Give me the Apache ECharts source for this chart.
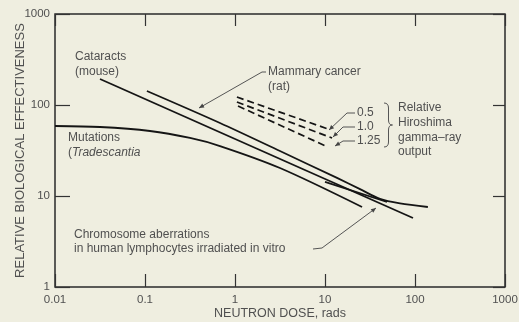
<!DOCTYPE html>
<html><head><meta charset="utf-8">
<script src="https://cdn.jsdelivr.net/npm/echarts@6/dist/echarts.min.js"></script>
<style>html,body{margin:0;padding:0;background:#efeee0;}#c{width:519px;height:322px;}</style>
</head><body><div id="c"></div>
<script>
// ---- data ----
const xTickLabels = ['0.01', '0.1', '1', '10', '100', '1000'];
const yTickLabels = ['1', '10', '100', '1000'];

const cataractsDose = [0.0316, 95];
const cataractsRBE = [193, 5.73];

const mammaryDose = [0.105, 0.681, 3.16, 13.6, 24.5, 40.8, 68.1, 139];
const mammaryRBE = [142.5, 63.4, 31.2, 15.8, 11.9, 9.3, 8.3, 7.57];

const mutationsDose = [0.01, 0.0316, 0.1136, 0.316, 0.681, 3.16, 25.8];
const mutationsRBE = [58.8, 57.3, 51.8, 43.4, 35.4, 20.3, 7.57];

const chromosomeDose = [10, 48.9];
const chromosomeRBE = [14.3, 8.59];

const gamma05Dose = [1.05, 10.8];
const gamma05RBE = [122.4, 54.5];
const gamma10Dose = [1.05, 12.0];
const gamma10RBE = [107.9, 43.4];
const gamma125Dose = [1.08, 10.8];
const gamma125RBE = [97.5, 34.5];

// ---- helpers ----
const pairs = (xs, ys) => xs.map((x, i) => [x, ys[i]]);
const FONT = '"Liberation Sans", Arial, sans-serif';
const TXT = '#505050';
const LINE = '#151515';

function solid(name, xs, ys, smooth) {
  return { name, type: 'line', data: pairs(xs, ys), showSymbol: false, smooth: smooth || false,
    lineStyle: { color: LINE, width: 1.8 }, z: 3, silent: true };
}
function dashed(name, xs, ys) {
  return { name, type: 'line', data: pairs(xs, ys), showSymbol: false,
    lineStyle: { color: LINE, width: 1.7, type: [7, 4] }, z: 3, silent: true };
}
function txt(t, x, y, extra) {
  return Object.assign({ type: 'text', silent: true, style: Object.assign({
    text: t, x, y, fill: TXT, font: '12px ' + FONT,
    textAlign: 'left', textVerticalAlign: 'middle', align: 'left', verticalAlign: 'middle'
  }, extra || {}) });
}
function leader(pts) {
  const els = [{ type: 'polyline', silent: true, shape: { points: pts },
    style: { stroke: '#555', lineWidth: 1, fill: null } }];
  const a = pts[pts.length - 1], b = pts[pts.length - 2];
  const ang = Math.atan2(a[1] - b[1], a[0] - b[0]);
  const L = 5, W = 2.2;
  const bx = a[0] - L * Math.cos(ang), by = a[1] - L * Math.sin(ang);
  els.push({ type: 'polygon', silent: true, shape: { points: [
    a, [bx + W * Math.sin(ang), by - W * Math.cos(ang)], [bx - W * Math.sin(ang), by + W * Math.cos(ang)]] },
    style: { fill: '#444' } });
  return els;
}
function q(x1, y1, cx, cy, x2, y2) {
  return { type: 'bezierCurve', silent: true, shape: { x1, y1, x2, y2, cpx1: cx, cpy1: cy },
    style: { stroke: '#555', lineWidth: 1, fill: null } };
}
function seg(x1, y1, x2, y2) {
  return { type: 'line', silent: true, shape: { x1, y1, x2, y2 }, style: { stroke: '#555', lineWidth: 1 } };
}

const chart = echarts.init(document.getElementById('c'), null, { renderer: 'canvas' });

const tickStyle = { show: true, inside: true, length: 13, lineStyle: { color: '#333', width: 1.2 } };
const xFmt = v => xTickLabels[Math.round(Math.log10(v)) + 2];
const yFmt = v => yTickLabels[Math.round(Math.log10(v))];

const graphics = [].concat(
  [txt('Cataracts', 75, 57), txt('(mouse)', 75, 72),
   txt('Mammary cancer', 268, 72), txt('(rat)', 268, 87),
   txt('Mutations', 68, 138), txt('(', 68, 153),
   txt('Tradescantia', 72, 153, { font: 'italic 12px ' + FONT }),
   txt('Chromosome aberrations', 74, 235),
   txt('in human lymphocytes irradiated in vitro', 74, 249),
   txt('0.5', 357, 113), txt('1.0', 357, 127), txt('1.25', 357, 141),
   txt('Relative', 398, 108), txt('Hiroshima', 398, 123),
   txt('gamma\u2013ray', 398, 138), txt('output', 398, 152)],
  leader([[266, 72], [262, 72], [199, 108]]),
  leader([[313, 249], [322, 248], [326, 245], [376, 208]]),
  leader([[355, 113], [347, 113], [329, 130]]),
  leader([[355, 127], [343, 127], [333, 137]]),
  leader([[355, 141], [343, 141], [335, 146]]),
  [q(384, 103, 388.5, 103, 388.5, 108), seg(388.5, 108, 388.5, 120),
   q(388.5, 120, 388.5, 125, 392.5, 125), q(392.5, 125, 388.5, 125, 388.5, 130),
   seg(388.5, 130, 388.5, 142), q(388.5, 142, 388.5, 147, 384, 147)]
);

chart.setOption({
  backgroundColor: '#efeee0',
  animation: false,
  grid: { left: 55, right: 14, top: 14, bottom: 35, containLabel: false, outerBoundsMode: 'none',
    show: true, borderColor: '#2a2a2a', borderWidth: 1.5, backgroundColor: 'transparent' },
  xAxis: [
    { type: 'log', logBase: 10, min: 0.01, max: 1000, position: 'bottom',
      name: 'NEUTRON DOSE, rads', nameLocation: 'middle', nameGap: 20, nameMoveOverlap: false,
      nameTextStyle: { color: TXT, fontFamily: FONT, fontSize: 12.5 },
      axisLine: { show: false }, axisTick: tickStyle, splitLine: { show: false }, minorTick: { show: false },
      axisLabel: { color: TXT, fontFamily: FONT, fontSize: 11.5, margin: 7, formatter: xFmt } },
    { type: 'log', logBase: 10, min: 0.01, max: 1000, position: 'top',
      axisLine: { show: false }, axisTick: Object.assign({}, tickStyle, { length: 12 }), splitLine: { show: false },
      axisLabel: { show: false } }
  ],
  yAxis: [
    { type: 'log', logBase: 10, min: 1, max: 1000, position: 'left',
      name: 'RELATIVE BIOLOGICAL EFFECTIVENESS', nameLocation: 'middle', nameGap: 28, nameRotate: 90,
      nameMoveOverlap: false,
      nameTextStyle: { color: TXT, fontFamily: FONT, fontSize: 13 },
      axisLine: { show: false }, axisTick: Object.assign({}, tickStyle, { length: 15 }), splitLine: { show: false },
      axisLabel: { color: TXT, fontFamily: FONT, fontSize: 11.5, margin: 5, formatter: yFmt } },
    { type: 'log', logBase: 10, min: 1, max: 1000, position: 'right',
      axisLine: { show: false }, axisTick: Object.assign({}, tickStyle, { length: 12 }), splitLine: { show: false },
      axisLabel: { show: false } }
  ],
  series: [
    solid('Cataracts (mouse)', cataractsDose, cataractsRBE),
    solid('Mammary cancer (rat)', mammaryDose, mammaryRBE, 0.3),
    solid('Mutations (Tradescantia)', mutationsDose, mutationsRBE, 0.3),
    solid('Chromosome aberrations', chromosomeDose, chromosomeRBE),
    dashed('0.5', gamma05Dose, gamma05RBE),
    dashed('1.0', gamma10Dose, gamma10RBE),
    dashed('1.25', gamma125Dose, gamma125RBE)
  ],
  graphic: { elements: graphics }
});
</script></body></html>
